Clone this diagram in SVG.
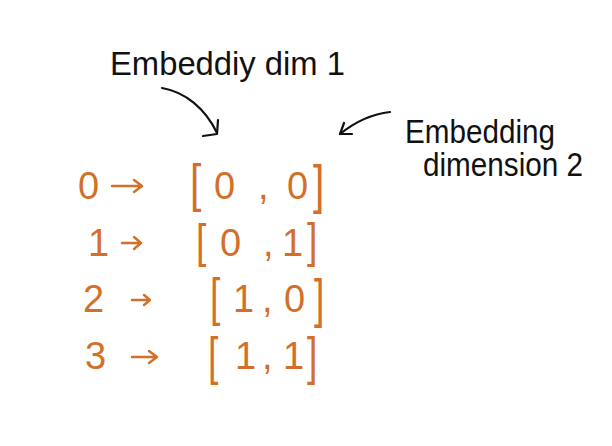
<svg xmlns="http://www.w3.org/2000/svg" width="612" height="446" viewBox="0 0 612 446">
<style>
.ink{font-family:"Liberation Sans",Arial,sans-serif;fill:#111;font-size:33px}
.or{font-family:"Liberation Sans",Arial,sans-serif;fill:#d2702a;font-size:38px}
.br{font-family:"Liberation Sans",Arial,sans-serif;fill:#d2702a;font-size:34px}
.con{fill:none;stroke:#111;stroke-width:2.2;stroke-linecap:round;stroke-linejoin:round}
.oc{fill:none;stroke:#d2702a;stroke-width:2.4;stroke-linecap:round;stroke-linejoin:round}
</style>
<rect width="612" height="446" fill="#fff"/>
<g id="label-dim1"><text class="ink" x="110" y="75" textLength="235" lengthAdjust="spacingAndGlyphs">Embeddiy dim 1</text></g>
<g id="label-dim2">
<text class="ink" x="405" y="143" textLength="150" lengthAdjust="spacingAndGlyphs">Embedding</text>
<text class="ink" x="423" y="176" textLength="160" lengthAdjust="spacingAndGlyphs">dimension 2</text>
</g>
<g id="connectors">
<path class="con" d="M162,88 C185,92 205,108 217,133"/>
<path class="con" d="M203,136 L217,134 L218,120"/>
<path class="con" d="M390,112 C372,114 355,122 340,134"/>
<path class="con" d="M340,134 L344,123 M340,134 L352,134"/>
</g>
<g id="row0">
<text class="or" x="78" y="199">0</text>
<path class="oc" d="M112,186 L142,186 M134,180 L142,186 L134,192"/>
<text class="br" transform="translate(190,201) scale(1.2,1.55)">[</text>
<text class="or" x="214" y="199">0</text>
<text class="or" x="258" y="199">,</text>
<text class="or" x="287" y="199">0</text>
<text class="br" transform="translate(313,203) scale(1.2,1.6)">]</text>
</g>
<g id="row1">
<text class="or" x="88" y="256">1</text>
<path class="oc" d="M122,243 L141,243 M134,237 L141,243 L134,249"/>
<text class="br" transform="translate(196,257) scale(1.1,1.35)">[</text>
<text class="or" x="220" y="256">0</text>
<text class="or" x="263" y="256">,</text>
<text class="or" x="282" y="256">1</text>
<text class="br" transform="translate(307,257) scale(1.1,1.4)">]</text>
</g>
<g id="row2">
<text class="or" x="83" y="312">2</text>
<path class="oc" d="M132,300 L150,300 M144,295 L150,300 L144,305"/>
<text class="br" transform="translate(210,315) scale(1.1,1.5)">[</text>
<text class="or" x="233" y="312">1</text>
<text class="or" x="262" y="312">,</text>
<text class="or" x="284" y="312">0</text>
<text class="br" transform="translate(314,317) scale(1.1,1.6)">]</text>
</g>
<g id="row3">
<text class="or" x="85" y="369">3</text>
<path class="oc" d="M132,357 L157,357 M149,351 L157,357 L149,363"/>
<text class="br" transform="translate(208,374) scale(1.1,1.5)">[</text>
<text class="or" x="235" y="369">1</text>
<text class="or" x="262" y="369">,</text>
<text class="or" x="283" y="369">1</text>
<text class="br" transform="translate(307,374) scale(1.1,1.5)">]</text>
</g>
</svg>
